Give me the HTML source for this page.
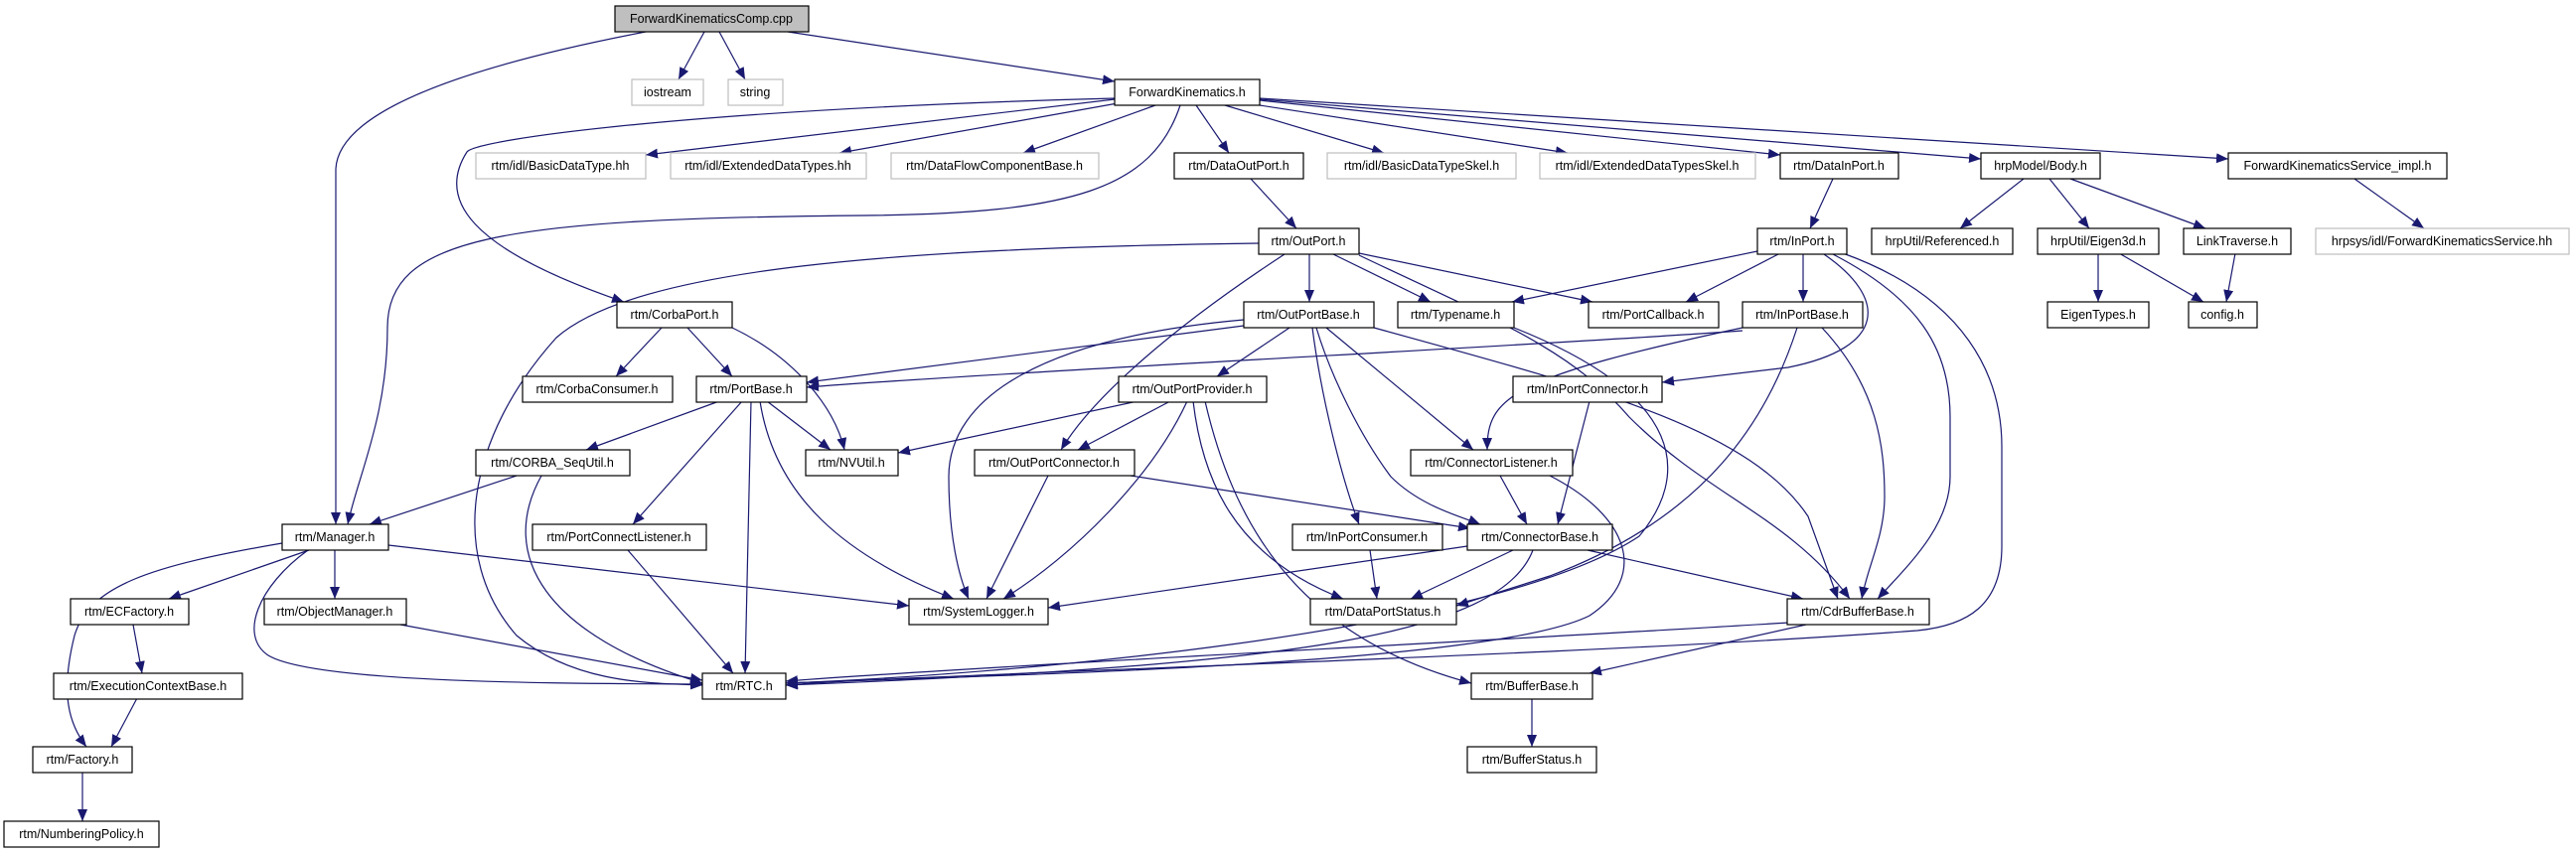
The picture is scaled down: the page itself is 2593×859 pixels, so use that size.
<!DOCTYPE html>
<html><head><meta charset="utf-8"><style>
html,body{margin:0;padding:0;background:#fff;}
svg{display:block;}
text{font-family:"Liberation Sans",sans-serif;font-size:12.5px;fill:#000;}
</style></head><body>
<svg width="2593" height="859" viewBox="0 0 2593 859" xmlns="http://www.w3.org/2000/svg">
<defs>
<marker id="a" markerUnits="userSpaceOnUse" markerWidth="14" markerHeight="12" refX="12" refY="5" orient="auto">
<path d="M0,0 L12,5 L0,10 z" fill="#191970"/>
</marker>
</defs>
<g fill="none" stroke="#191970" stroke-width="1.2" marker-end="url(#a)">
<path d="M650,32 C400,80 340,130 338,170 L338,528"/>
<path d="M709,32 L683,80"/>
<path d="M724,32 L750,80"/>
<path d="M793,32 L1122,82"/>
<path d="M1122,100 L650,156"/>
<path d="M1125,104 L845,154"/>
<path d="M1163,106 L1030,154"/>
<path d="M1204,106 L1237,154"/>
<path d="M1233,106 L1393,154"/>
<path d="M1268,106 L1578,154"/>
<path d="M1268,101 L1792,156"/>
<path d="M1268,100 L1994,160"/>
<path d="M1268,99 L2243,160"/>
<path d="M1122,99 C700,110 480,140 470,153 C440,200 470,250 628,304"/>
<path d="M1188,106 C1160,190 1080,215 870,217 C500,220 390,240 390,330 C390,420 360,480 350,528"/>
<path d="M1259,180 L1305,230"/>
<path d="M1845,180 L1822,230"/>
<path d="M2037,180 L1973,230"/>
<path d="M2063,180 L2103,230"/>
<path d="M2084,180 L2220,230"/>
<path d="M2370,180 L2440,230"/>
<path d="M2112,255 L2112,304"/>
<path d="M2133,255 L2218,304"/>
<path d="M2250,255 L2241,304"/>
<path d="M1267,245 C900,250 640,270 560,340 C470,440 450,560 520,640 C580,690 660,688 707,690"/>
<path d="M1318,256 L1318,304"/>
<path d="M1342,256 L1440,304"/>
<path d="M1368,255 L1603,304"/>
<path d="M1293,256 C1180,330 1100,400 1068,453"/>
<path d="M1368,257 C1500,320 1580,350 1640,420 C1720,500 1800,520 1862,603"/>
<path d="M1769,253 L1522,304"/>
<path d="M1790,256 L1697,304"/>
<path d="M1815,256 L1815,304"/>
<path d="M1836,256 C1900,300 1900,350 1800,370 L1673,385"/>
<path d="M1845,256 C1930,300 1963,350 1963,420 L1963,480 C1963,530 1920,570 1890,603"/>
<path d="M1855,255 C1980,300 2015,380 2015,450 L2015,550 C2015,610 1980,630 1930,635 C1600,660 900,680 791,690"/>
<path d="M1834,330 C1890,390 1897,450 1897,500 C1897,540 1880,570 1874,603"/>
<path d="M1754,333 C1600,345 1000,375 812,390"/>
<path d="M1754,330 C1520,380 1497,400 1497,453"/>
<path d="M1809,330 C1780,420 1720,520 1560,580 L1466,610"/>
<path d="M1252,328 L812,385"/>
<path d="M1252,322 C1050,340 955,400 955,480 C955,540 965,580 975,603"/>
<path d="M1298,330 L1225,379"/>
<path d="M1321,330 C1330,400 1350,480 1368,528"/>
<path d="M1325,330 C1340,380 1370,440 1400,480 C1430,510 1470,520 1490,528"/>
<path d="M1335,330 L1483,453"/>
<path d="M1383,330 C1600,390 1760,430 1820,520 L1850,603"/>
<path d="M1524,330 C1700,400 1700,480 1650,540 C1500,640 1000,680 791,688"/>
<path d="M666,330 L620,379"/>
<path d="M692,330 L737,379"/>
<path d="M737,330 C800,360 840,410 850,453"/>
<path d="M724,404 L590,453"/>
<path d="M747,404 L637,528"/>
<path d="M756,404 L750,678"/>
<path d="M772,404 L836,453"/>
<path d="M765,404 C780,500 850,560 960,603"/>
<path d="M1145,404 L904,456"/>
<path d="M1178,404 L1085,453"/>
<path d="M1195,404 C1160,480 1080,560 1010,603"/>
<path d="M1201,404 C1210,480 1240,560 1352,603"/>
<path d="M1213,404 C1240,520 1300,640 1481,688"/>
<path d="M1055,479 L993,603"/>
<path d="M1138,479 L1480,532"/>
<path d="M1510,479 L1537,528"/>
<path d="M1560,479 C1640,520 1660,580 1600,620 C1500,670 1000,680 791,688"/>
<path d="M1600,404 L1568,528"/>
<path d="M1379,554 L1386,603"/>
<path d="M1477,550 L1055,612"/>
<path d="M1523,554 L1420,603"/>
<path d="M1543,554 C1510,640 1300,670 791,690"/>
<path d="M1598,554 L1815,603"/>
<path d="M520,479 L372,528"/>
<path d="M545,479 C500,560 550,640 707,688"/>
<path d="M284,547 C150,570 90,590 75,640 C60,700 70,730 87,752"/>
<path d="M311,554 L170,603"/>
<path d="M337,554 L337,603"/>
<path d="M310,554 C260,590 240,640 270,660 C320,690 600,688 707,689"/>
<path d="M391,549 L915,610"/>
<path d="M134,629 L143,678"/>
<path d="M138,703 L112,752"/>
<path d="M83,778 L83,827"/>
<path d="M403,629 L707,685"/>
<path d="M632,554 L738,678"/>
<path d="M1800,627 C1600,640 1000,670 791,686"/>
<path d="M1818,629 L1600,678"/>
<path d="M1542,703 L1542,752"/>
</g>
<g stroke-width="1.2">
<!-- gray nodes -->
<g fill="#fff" stroke="#bfbfbf">
<rect x="636" y="80" width="72" height="26"/>
<rect x="733" y="80" width="55" height="26"/>
<rect x="479" y="154" width="171" height="26"/>
<rect x="675" y="154" width="197" height="26"/>
<rect x="897" y="154" width="209" height="26"/>
<rect x="1336" y="154" width="190" height="26"/>
<rect x="1550" y="154" width="217" height="26"/>
<rect x="2331" y="230" width="255" height="26"/>
</g>
<rect x="619" y="6" width="195" height="26" fill="#bfbfbf" stroke="#000"/>
<g fill="#fff" stroke="#000">
<rect x="1122" y="80" width="146" height="26"/>
<rect x="1182" y="154" width="130" height="26"/>
<rect x="1792" y="154" width="119" height="26"/>
<rect x="1994" y="154" width="120" height="26"/>
<rect x="2243" y="154" width="220" height="26"/>
<rect x="1267" y="230" width="101" height="26"/>
<rect x="1769" y="230" width="90" height="26"/>
<rect x="1884" y="230" width="142" height="26"/>
<rect x="2051" y="230" width="122" height="26"/>
<rect x="2198" y="230" width="108" height="26"/>
<rect x="621" y="304" width="116" height="26"/>
<rect x="1252" y="304" width="131" height="26"/>
<rect x="1407" y="304" width="117" height="26"/>
<rect x="1599" y="304" width="131" height="26"/>
<rect x="1754" y="304" width="121" height="26"/>
<rect x="2061" y="304" width="102" height="26"/>
<rect x="2203" y="304" width="69" height="26"/>
<rect x="526" y="379" width="151" height="26"/>
<rect x="701" y="379" width="111" height="26"/>
<rect x="1126" y="379" width="149" height="26"/>
<rect x="1523" y="379" width="150" height="26"/>
<rect x="479" y="453" width="155" height="26"/>
<rect x="811" y="453" width="93" height="26"/>
<rect x="981" y="453" width="161" height="26"/>
<rect x="1420" y="453" width="163" height="26"/>
<rect x="284" y="528" width="107" height="26"/>
<rect x="536" y="528" width="175" height="26"/>
<rect x="1301" y="528" width="151" height="26"/>
<rect x="1477" y="528" width="146" height="26"/>
<rect x="71" y="603" width="119" height="26"/>
<rect x="266" y="603" width="143" height="26"/>
<rect x="915" y="603" width="140" height="26"/>
<rect x="1319" y="603" width="147" height="26"/>
<rect x="1799" y="603" width="143" height="26"/>
<rect x="54" y="678" width="190" height="26"/>
<rect x="707" y="678" width="84" height="26"/>
<rect x="1481" y="678" width="122" height="26"/>
<rect x="33" y="752" width="100" height="26"/>
<rect x="1477" y="752" width="130" height="26"/>
<rect x="4" y="827" width="156" height="26"/>
</g>
</g>
<g text-anchor="middle">
<text x="716" y="23">ForwardKinematicsComp.cpp</text>
<text x="672" y="97">iostream</text>
<text x="760" y="97">string</text>
<text x="1195" y="97">ForwardKinematics.h</text>
<text x="564" y="171">rtm/idl/BasicDataType.hh</text>
<text x="773" y="171">rtm/idl/ExtendedDataTypes.hh</text>
<text x="1001" y="171">rtm/DataFlowComponentBase.h</text>
<text x="1247" y="171">rtm/DataOutPort.h</text>
<text x="1431" y="171">rtm/idl/BasicDataTypeSkel.h</text>
<text x="1658" y="171">rtm/idl/ExtendedDataTypesSkel.h</text>
<text x="1851" y="171">rtm/DataInPort.h</text>
<text x="2054" y="171">hrpModel/Body.h</text>
<text x="2353" y="171">ForwardKinematicsService_impl.h</text>
<text x="1317" y="247">rtm/OutPort.h</text>
<text x="1814" y="247">rtm/InPort.h</text>
<text x="1955" y="247">hrpUtil/Referenced.h</text>
<text x="2112" y="247">hrpUtil/Eigen3d.h</text>
<text x="2252" y="247">LinkTraverse.h</text>
<text x="2458" y="247">hrpsys/idl/ForwardKinematicsService.hh</text>
<text x="679" y="321">rtm/CorbaPort.h</text>
<text x="1317" y="321">rtm/OutPortBase.h</text>
<text x="1465" y="321">rtm/Typename.h</text>
<text x="1664" y="321">rtm/PortCallback.h</text>
<text x="1814" y="321">rtm/InPortBase.h</text>
<text x="2112" y="321">EigenTypes.h</text>
<text x="2237" y="321">config.h</text>
<text x="601" y="396">rtm/CorbaConsumer.h</text>
<text x="756" y="396">rtm/PortBase.h</text>
<text x="1200" y="396">rtm/OutPortProvider.h</text>
<text x="1598" y="396">rtm/InPortConnector.h</text>
<text x="556" y="470">rtm/CORBA_SeqUtil.h</text>
<text x="857" y="470">rtm/NVUtil.h</text>
<text x="1061" y="470">rtm/OutPortConnector.h</text>
<text x="1501" y="470">rtm/ConnectorListener.h</text>
<text x="337" y="545">rtm/Manager.h</text>
<text x="623" y="545">rtm/PortConnectListener.h</text>
<text x="1376" y="545">rtm/InPortConsumer.h</text>
<text x="1550" y="545">rtm/ConnectorBase.h</text>
<text x="130" y="620">rtm/ECFactory.h</text>
<text x="337" y="620">rtm/ObjectManager.h</text>
<text x="985" y="620">rtm/SystemLogger.h</text>
<text x="1392" y="620">rtm/DataPortStatus.h</text>
<text x="1870" y="620">rtm/CdrBufferBase.h</text>
<text x="149" y="695">rtm/ExecutionContextBase.h</text>
<text x="749" y="695">rtm/RTC.h</text>
<text x="1542" y="695">rtm/BufferBase.h</text>
<text x="83" y="769">rtm/Factory.h</text>
<text x="1542" y="769">rtm/BufferStatus.h</text>
<text x="82" y="844">rtm/NumberingPolicy.h</text>
</g>
</svg>
</body></html>
